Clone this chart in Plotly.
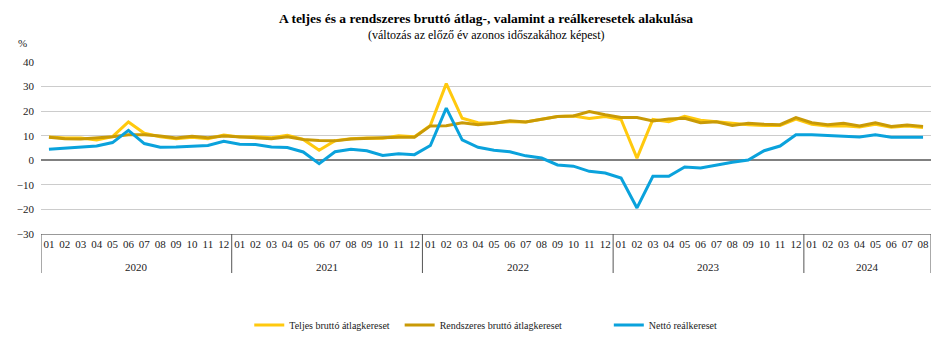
import plotly.graph_objects as go

years = ["2020"] * 12 + ["2021"] * 12 + ["2022"] * 12 + ["2023"] * 12 + ["2024"] * 8
months = [f"{m:02d}" for m in range(1, 13)] * 4 + [f"{m:02d}" for m in range(1, 9)]

teljes = [9.5, 9.1, 9.1, 8.3, 9.6, 15.6, 11.0, 9.6, 8.8, 9.4, 8.8, 10.3,
          9.5, 9.6, 9.2, 10.2, 8.5, 4.1, 8.0, 8.8, 9.1, 9.0, 10.0, 9.6,
          14.2, 31.2, 17.1, 15.3, 15.2, 15.7, 15.6, 16.6, 17.8, 18.0, 17.0, 17.8,
          16.6, 0.9, 16.6, 15.7, 17.9, 16.3, 15.7, 15.1, 14.5, 14.2, 14.2, 16.8,
          14.7, 14.0, 14.1, 13.6, 14.7, 13.4, 14.0, 13.3]
rendszeres = [9.4, 8.8, 8.7, 9.1, 9.6, 10.4, 10.4, 9.9, 9.1, 9.8, 9.2, 9.9,
              9.5, 9.4, 8.8, 9.6, 8.5, 8.1, 7.9, 8.7, 9.1, 9.2, 9.4, 9.4,
              14.0, 14.1, 15.3, 14.5, 15.1, 16.1, 15.6, 16.7, 17.8, 18.0, 19.8, 18.5,
              17.4, 17.4, 16.0, 16.8, 17.1, 15.3, 15.7, 14.2, 15.1, 14.7, 14.5, 17.4,
              15.3, 14.5, 15.1, 14.0, 15.3, 13.8, 14.4, 13.8]
netto = [4.5, 4.9, 5.4, 5.8, 7.2, 12.2, 6.8, 5.3, 5.4, 5.8, 6.0, 7.7,
         6.5, 6.4, 5.4, 5.2, 3.4, -1.4, 3.5, 4.5, 3.9, 2.0, 2.7, 2.3,
         6.0, 21.2, 8.3, 5.3, 4.1, 3.5, 1.8, 0.9, -1.9, -2.4, -4.5, -5.2,
         -7.2, -19.4, -6.5, -6.5, -2.7, -3.1, -1.9, -0.8, 0.1, 3.9, 5.8, 10.4,
         10.4, 10.0, 9.9, 9.5, 10.4, 9.4, 9.4, 9.4]

y_ticks = [-30, -20, -10, 0, 10, 20, 30, 40]

series = [
    ("Teljes bruttó átlagkereset", teljes, "#FFC90E", "legend", 0.234),
    ("Rendszeres bruttó átlagkereset", rendszeres, "#C99A06", "legend2", 0.403),
    ("Nettó reálkereset", netto, "#0AA2DC", "legend3", 0.638),
]

FONT = "Liberation Serif"
idx = list(range(len(months)))
n = len(months)

fig = go.Figure()
for name, vals, col, lg, _ in series:
    fig.add_trace(go.Scatter(x=idx, y=vals, name=name, mode="lines", legend=lg,
                             line=dict(color=col, width=3)))

# year groups derived from data
groups = []
for i, yv in enumerate(years):
    if not groups or groups[-1][0] != yv:
        groups.append([yv, i, i])
    else:
        groups[-1][2] = i

annotations = [
    dict(text="<b>A teljes és a rendszeres bruttó átlag-, valamint a reálkeresetek alakulása</b>",
         xref="paper", yref="paper", x=0.5, y=(234 - 18.5) / 172, xanchor="center", yanchor="middle",
         showarrow=False, font=dict(family=FONT, size=13.5, color="#000")),
    dict(text="(változás az előző év azonos időszakához képest)",
         xref="paper", yref="paper", x=0.5, y=(234 - 35) / 172, xanchor="center", yanchor="middle",
         showarrow=False, font=dict(family=FONT, size=12, color="#000")),
    dict(text="%", xref="paper", yref="paper", x=(22 - 41) / 890, y=(234 - 43) / 172,
         xanchor="center", yanchor="middle", showarrow=False,
         font=dict(family=FONT, size=11, color="#222")),
]
shapes = []
for yv, a, b in groups:
    annotations.append(dict(text=yv, x=(a + b) / 2, xref="x", y=(234 - 267) / 172, yref="paper",
                            xanchor="center", yanchor="middle", showarrow=False,
                            font=dict(family=FONT, size=11, color="#222")))
    shapes.append(dict(type="line", xref="x", yref="paper", x0=a - 0.5, x1=a - 0.5,
                       y0=0, y1=-39 / 172, line=dict(color="#555", width=1)))
shapes.append(dict(type="line", xref="x", yref="paper", x0=n - 0.5, x1=n - 0.5,
                   y0=0, y1=-39 / 172, line=dict(color="#555", width=1)))

legend_common = dict(orientation="h", yanchor="middle", y=(234 - 325) / 172, xanchor="left",
                     font=dict(family=FONT, size=10, color="#222"), bgcolor="rgba(0,0,0,0)")
layout_legends = {}
for name, vals, col, lg, lx in series:
    layout_legends[lg] = dict(legend_common, x=lx)

fig.update_layout(
    width=946, height=351,
    margin=dict(l=41, r=15, t=62, b=117, autoexpand=False),
    paper_bgcolor="white", plot_bgcolor="white",
    font=dict(family=FONT, size=11, color="#222"),
    showlegend=True,
    annotations=annotations,
    shapes=shapes,
    **layout_legends,
)
fig.update_xaxes(range=[-0.5, n - 0.5], tickmode="array", tickvals=idx, ticktext=months,
                 tickangle=0, showgrid=False, zeroline=False,
                 showline=True, linecolor="#999", linewidth=1, ticks="",
                 tickfont=dict(family=FONT, size=11, color="#222"))
fig.update_yaxes(range=[-30, 40], tickvals=y_ticks, showgrid=True, gridcolor="#cccccc",
                 gridwidth=1, zeroline=True, zerolinecolor="#808080", zerolinewidth=1.5,
                 showline=False, ticks="", ticklabelstandoff=6,
                 tickfont=dict(family=FONT, size=11, color="#222"))

fig.write_html("out.html")
